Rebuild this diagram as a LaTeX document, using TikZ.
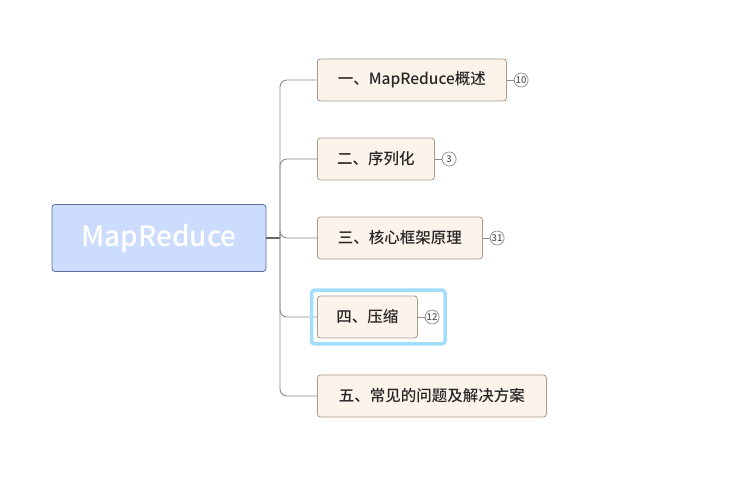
\documentclass[tikz,border=0pt]{standalone}
\usepackage{fontspec}
\setmainfont{Noto Sans CJK SC}[UprightFont={* Medium}]
\usetikzlibrary{positioning,fit}
\definecolor{rootfill}{HTML}{CCDCFC}
\definecolor{rootline}{HTML}{5D6F9E}
\definecolor{topicfill}{HTML}{FCF3EA}
\definecolor{topicline}{HTML}{A79B8E}
\definecolor{branch}{HTML}{8A8A8A}
\definecolor{focus}{HTML}{A3DDFB}
\tikzset{
  root/.style={draw=rootline,fill=rootfill,line width=0.8pt,rounded corners=3pt,minimum width=214pt,
    minimum height=67pt,text=white,font=\fontsize{28}{32}\selectfont},
  topic/.style={draw=topicline,fill=topicfill,line width=0.8pt,rounded corners=3pt,minimum height=42pt,
    anchor=west,text=black!85,font=\fontsize{15.5}{18}\selectfont},
  badge/.style={circle,draw=branch,fill=white,line width=0.7pt,inner sep=0pt,minimum size=14pt,
    text=black!65,font=\fontsize{9.5}{10}\selectfont},
  branchline/.style={draw=branch,line width=0.9pt,rounded corners=7pt},
  focusbox/.style={draw=focus,line width=3.5pt,rounded corners=3pt,inner sep=5.5pt},
}

\begin{document}
\begin{tikzpicture}[x=1pt,y=-1pt]
\useasboundingbox (0,0) rectangle (740,489);
\node[root] (root) at (159,238) {MapReduce};
\coordinate (trunk) at (280,238);
\draw[black!60,line width=1.4pt] (root.east) -- (trunk);
\foreach \n/\y/\w/\txt in {1/80/189/一、MapReduce概述, 2/159/117/二、序列化,
  3/238/165/三、核心框架原理, 4/317/100/四、压缩, 5/396/229/五、常见的问题及解决方案}
{
  \node[topic,minimum width=\w pt] (c\n) at (317,\y) {\txt};
  \draw[branchline] (trunk) |- (c\n.west);
}
\foreach \n/\num in {1/10, 2/3, 3/31, 4/12}
{
  \node[badge,right=7pt of c\n] (b\n) {\num};
  \draw[branch,line width=0.7pt] (c\n) -- (b\n);
}
\node[focusbox,fit=(c4)(b4)] (focus4) {};
\end{tikzpicture}
\end{document}
